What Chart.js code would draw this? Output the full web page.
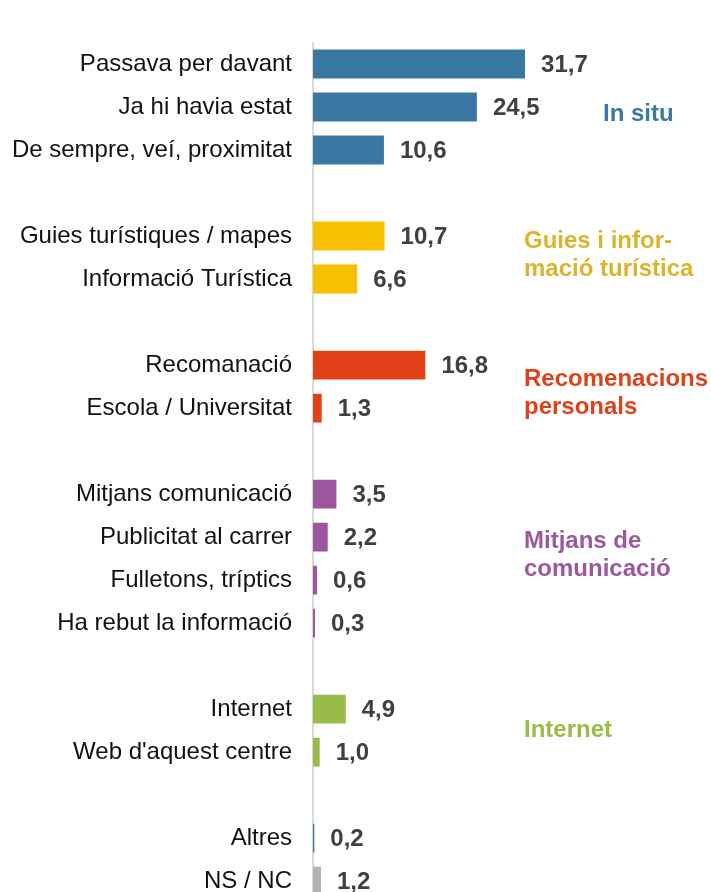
<!DOCTYPE html>
<html>
<head>
<meta charset="utf-8">
<script src="https://cdn.jsdelivr.net/npm/chart.js@4"></script>
<style>
  html, body { margin: 0; padding: 0; background: #fff; overflow: hidden; }
  canvas { display: block; }
</style>
</head>
<body>
<canvas id="chart" width="711" height="938"></canvas>
<script>
// DATA (empty label + null value = gap between groups)

const categories = [
  "Passava per davant", "Ja hi havia estat", "De sempre, veí, proximitat", "",
  "Guies turístiques / mapes", "Informació Turística", "",
  "Recomanació", "Escola / Universitat", "",
  "Mitjans comunicació", "Publicitat al carrer", "Fulletons, tríptics", "Ha rebut la informació", "",
  "Internet", "Web d'aquest centre", "",
  "Altres", "NS / NC"
];

const values = [
  31.7, 24.5, 10.6, null,
  10.7, 6.6, null,
  16.8, 1.3, null,
  3.5, 2.2, 0.6, 0.3, null,
  4.9, 1.0, null,
  0.2, 1.2
];

const groupNames = [
  ["In situ"],
  ["Guies i infor-", "mació turística"],
  ["Recomenacions", "personals"],
  ["Mitjans de", "comunicació"],
  ["Internet"]
];

// first and last row of each group
const groupRows = [[0, 2], [4, 5], [7, 8], [10, 13], [15, 16]];


// STYLES

const BLUE = "#3a77a1";
const YELLOW = "#f6c100";
const RED = "#e04119";
const PURPLE = "#9b569f";
const GREEN = "#97bc4a";
const GREY = "#b3b3b3";

const barColors = [
  BLUE, BLUE, BLUE, BLUE,
  YELLOW, YELLOW, YELLOW,
  RED, RED, RED,
  PURPLE, PURPLE, PURPLE, PURPLE, PURPLE,
  GREEN, GREEN, GREEN,
  BLUE, GREY
];

const FONT = "'Liberation Sans', Arial, sans-serif";
const groupColors = ["#3b78a4", "#dab42a", RED, "#9b58a0", GREEN];
const groupX = [603, 524, 524, 524, 524];
const groupDy = [7, -2.5, 6.5, -3.5, 0];


// VALUE LABELS + GROUP LABELS

const labelPlugin = {
  id: "labels",
  afterDatasetsDraw(chart) {
    const ctx = chart.ctx;
    const meta = chart.getDatasetMeta(0);
    ctx.save();
    ctx.font = "bold 24px " + FONT;
    ctx.fillStyle = "#404040";
    ctx.textBaseline = "middle";
    ctx.textAlign = "left";
    meta.data.forEach((bar, i) => {
      if (values[i] === null) return;
      ctx.fillText(values[i].toFixed(1).replace(".", ","), bar.x + 16, bar.y + 1);
    });

    const yScale = chart.scales.y;
    const lineH = 28;
    groupNames.forEach((lines, g) => {
      const yMid = (yScale.getPixelForValue(groupRows[g][0]) + yScale.getPixelForValue(groupRows[g][1])) / 2 + groupDy[g];
      const y0 = yMid - (lines.length - 1) * lineH / 2;
      ctx.fillStyle = groupColors[g];
      lines.forEach((t, k) => {
        ctx.fillText(t, groupX[g], y0 + k * lineH);
      });
    });
    ctx.restore();
  }
};


// CHART

new Chart(document.getElementById("chart"), {
  type: "bar",
  data: {
    labels: categories,
    datasets: [{
      data: values,
      backgroundColor: barColors,
      borderWidth: 0,
      barPercentage: 0.67,
      categoryPercentage: 1
    }]
  },
  options: {
    indexAxis: "y",
    responsive: false,
    animation: false,
    layout: { padding: { top: 42.5, bottom: 0, left: 0, right: 0 } },
    plugins: {
      legend: { display: false },
      tooltip: { enabled: false }
    },
    scales: {
      x: {
        display: false,
        min: 0,
        max: 59.5
      },
      y: {
        grid: { display: false, drawTicks: false },
        border: { color: "#d9d9d9", width: 2 },
        ticks: {
          padding: 21,
          color: "#111",
          font: { family: FONT, size: 24 }
        },
        afterFit(scale) { scale.width = 313; }
      }
    }
  },
  plugins: [labelPlugin]
});
</script>
</body>
</html>
